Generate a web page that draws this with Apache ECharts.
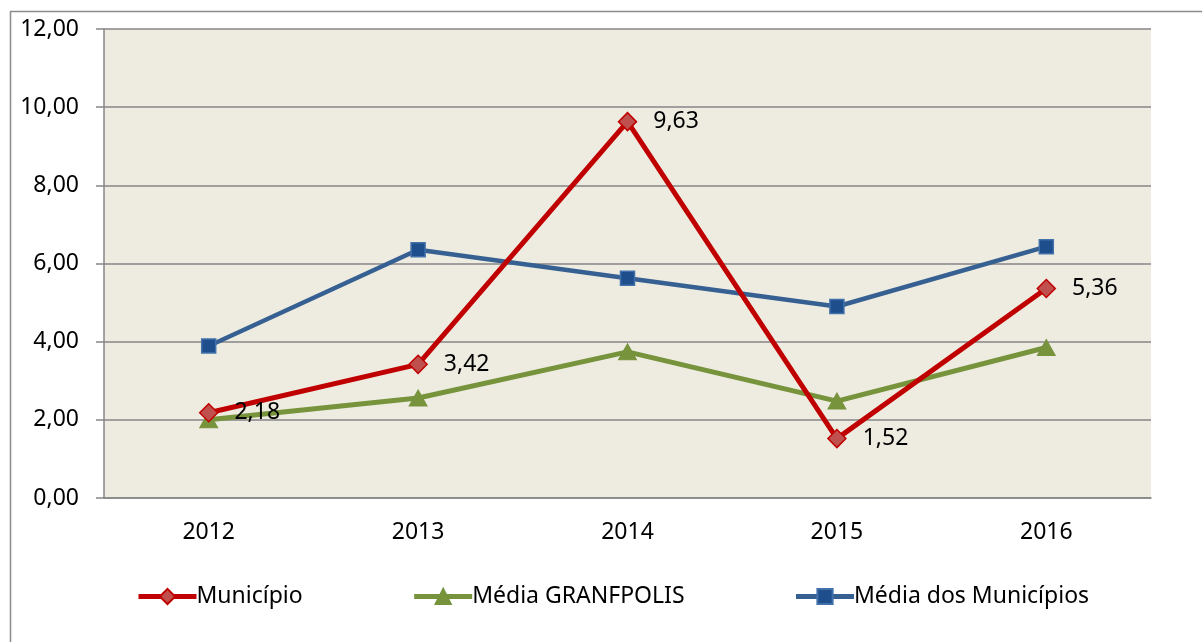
<!DOCTYPE html>
<html>
<head>
<meta charset="utf-8">
<script src="https://cdn.jsdelivr.net/npm/echarts@6/dist/echarts.min.js"></script>
<style>
html,body{margin:0;padding:0;background:#fff;}
#c{width:1202px;height:642px;}
</style>
</head>
<body>
<div id="c"></div>
<script>
const categories = ['2012', '2013', '2014', '2015', '2016'];
const municipio = [2.18, 3.42, 9.63, 1.52, 5.36];
const mediaGranfpolis = [2.00, 2.56, 3.74, 2.48, 3.85];
const mediaMunicipios = [3.89, 6.35, 5.62, 4.90, 6.43];
const seriesNames = ['Município', 'Média GRANFPOLIS', 'Média dos Municípios'];
const yTicks = { min: 0, max: 12, interval: 2 };

const FONT = 'Noto Sans';
const FS = 23;
const fmt = v => v.toFixed(2).replace('.', ',');

const chart = echarts.init(document.getElementById('c'), null, { renderer: 'canvas' });
chart.setOption({
  animation: false,
  backgroundColor: '#ffffff',
  textStyle: { fontFamily: FONT },
  graphic: [{
    type: 'rect', z: -10, silent: true,
    shape: { x: 10.5, y: 11.5, width: 1300, height: 800 },
    style: { fill: 'none', stroke: '#8c8c8c', lineWidth: 1.5 }
  }],
  grid: {
    left: 104, right: 1202 - 1151, top: 29, bottom: 642 - 498,
    show: true, backgroundColor: '#EEECE1', borderWidth: 0
  },
  legend: {
    left: 131, top: 580,
    itemWidth: 58, itemHeight: 19, itemGap: 109,
    lineStyle: { width: 5 },
    textStyle: { fontFamily: FONT, fontSize: 23, color: '#000', padding: [0, 0, 0, -5] },
    data: seriesNames
  },
  xAxis: {
    type: 'category', data: categories, boundaryGap: true,
    axisLine: { show: true, lineStyle: { color: '#868686', width: 1.5 } },
    axisTick: { show: false },
    axisLabel: { margin: 23, fontSize: FS, color: '#000', fontFamily: FONT },
    splitLine: { show: false }
  },
  yAxis: {
    type: 'value', min: yTicks.min, max: yTicks.max, interval: yTicks.interval,
    axisLine: { show: true, lineStyle: { color: '#868686', width: 1.5 } },
    axisTick: { show: true, inside: false, length: 8, lineStyle: { color: '#868686', width: 1.5 } },
    axisLabel: { margin: 25, fontSize: FS, color: '#000', fontFamily: FONT, formatter: v => fmt(v) },
    splitLine: { show: true, lineStyle: { color: '#868686', width: 1.5 } }
  },
  series: [
    {
      name: seriesNames[0], type: 'line', data: municipio, z: 5,
      symbol: 'diamond', symbolSize: 18,
      lineStyle: { color: '#C00000', width: 5 },
      itemStyle: { color: '#C0504D', borderColor: '#C00000', borderWidth: 1.5 },
      label: { show: true, position: 'right', distance: 16, fontSize: FS, color: '#000', fontFamily: FONT, formatter: p => fmt(p.value) }
    },
    {
      name: seriesNames[1], type: 'line', data: mediaGranfpolis, z: 4,
      symbol: 'triangle', symbolSize: [18, 16],
      lineStyle: { color: '#77933C', width: 5 },
      itemStyle: { color: '#77933C', borderColor: '#77933C', borderWidth: 1 }
    },
    {
      name: seriesNames[2], type: 'line', data: mediaMunicipios, z: 3,
      symbol: 'rect', symbolSize: 14,
      lineStyle: { color: '#376092', width: 4.5 },
      itemStyle: { color: '#1F4E8C', borderColor: '#4170AA', borderWidth: 1.5 }
    }
  ]
});
</script>
</body>
</html>
